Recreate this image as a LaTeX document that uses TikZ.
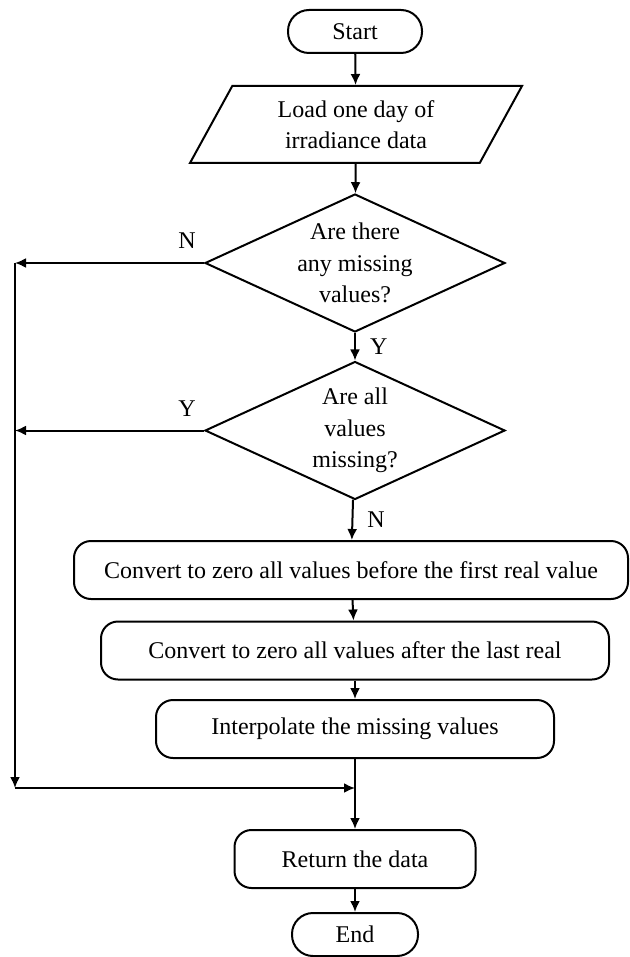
\documentclass[tikz,border=0pt]{standalone}
\usepackage{fontspec}
\setmainfont{Liberation Serif}
\usetikzlibrary{arrows.meta,shapes.geometric}
\tikzset{
    every node/.style={font=\fontsize{24}{31.5}\selectfont, align=center},
    term/.style={draw, rectangle, rounded corners=21pt, minimum width=#1, minimum height=43pt, inner sep=0pt},
    proc/.style={draw, rectangle, rounded corners=17pt, minimum width=#1, minimum height=58pt, inner sep=0pt},
    io/.style={draw, trapezium, trapezium left angle=49, trapezium right angle=131,
        trapezium stretches body, minimum width=332pt, minimum height=77pt, inner sep=0pt},
    decide/.style={draw, diamond, aspect=2.17, minimum width=300pt, minimum height=138pt, inner sep=0pt},
    lbl/.style={font=\fontsize{24}{28}\selectfont, inner sep=2pt}
}
\begin{document}
\begin{tikzpicture}[x=1pt, y=-1pt, line width=2pt, >={Latex[length=11pt,width=10pt]}]
    \useasboundingbox (0,0) rectangle (629,957);

    % 1. Nodes
    \node[term=134pt] (start) at (355,31.5) {Start};
    \node[io] (load) at (356,124.5) {Load one day of\\irradiance data};
    \node[decide] (q1) at (355,263) {Are there\\any missing\\values?};
    \node[decide] (q2) at (355,430.5) {Are all\\values\\missing?};
    \node[proc=554pt] (conv1) at (351,570) {Convert to zero all values before the first real value};
    \node[proc=508pt] (conv2) at (355,650.5) {Convert to zero all values after the last real};
    \node[proc=398pt] (interp) at (355,729) {Interpolate the missing values};
    \node[proc=241pt] (ret) at (355,859) {Return the data};
    \node[term=126pt] (end) at (355,934.5) {End};

    % 2. Bypass points
    \coordinate (l1) at (15,263);
    \coordinate (l2) at (15,430.5);
    \coordinate (l3) at (15,788);
    \coordinate (j) at (355,788);

    % 3. Main flow
    \draw[->] (start) -- (load);
    \draw[->] (load) -- (q1);
    \draw[->] (q1) -- node[lbl, right=12pt] {Y} (q2);
    \draw[->] (q2) -- node[lbl, right=12pt] {N} (conv1);
    \draw[->] (conv1) -- (conv2);
    \draw[->] (conv2) -- (interp);
    \draw[->] (interp) -- (ret);
    \draw[->] (ret) -- (end);

    % 4. Left branch
    \draw[->] (q1.west) -- node[lbl, pos=0.09, above=11pt] {N} (l1);
    \draw[->] (q2.west) -- node[lbl, pos=0.09, above=11pt] {Y} (l2);
    \draw[->] (l1) -- (l3);
    \draw[->] (l3) -- (j);
\end{tikzpicture}
\end{document}
